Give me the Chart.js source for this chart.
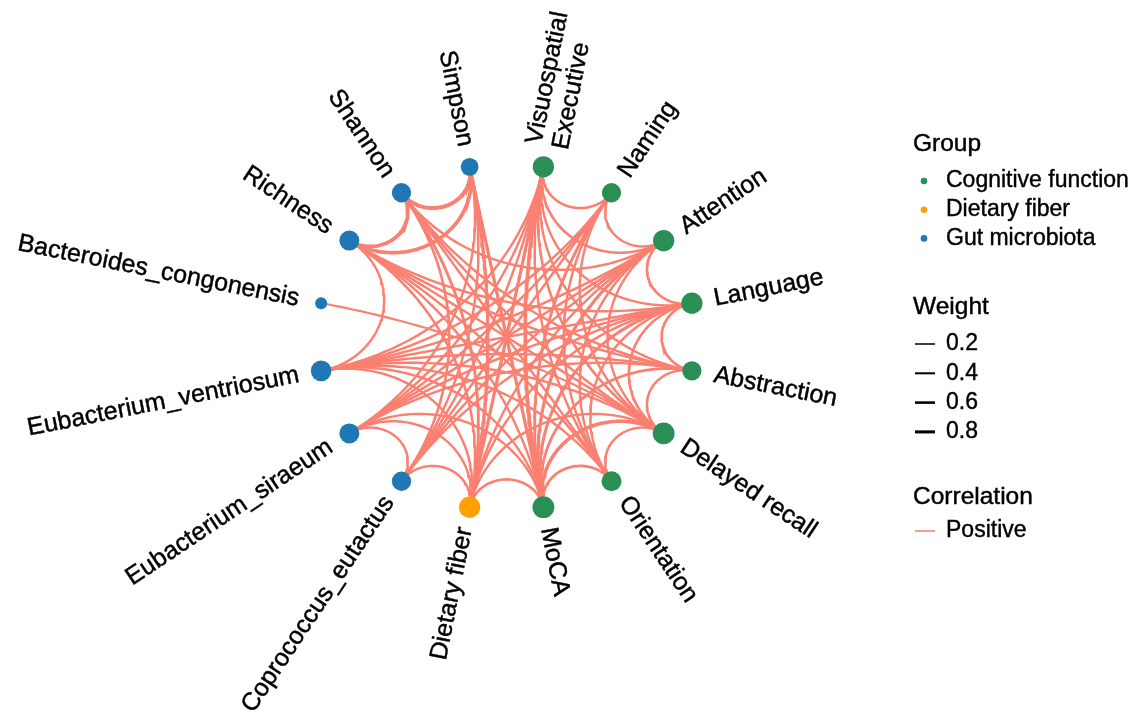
<!DOCTYPE html>
<html>
<head>
<meta charset="utf-8">
<script src="https://cdn.jsdelivr.net/npm/chart.js@4.4.1/dist/chart.umd.min.js"></script>
<style>
  html, body { margin: 0; padding: 0; background: #ffffff; }
  canvas { display: block; }
</style>
</head>
<body>
<canvas id="net" width="1135" height="716"></canvas>
<script>
// ---- data ---------------------------------------------------------------
// nodes in clockwise order starting just right of 12 o'clock
const nodeNames = [
  "Visuospatial Executive", "Naming", "Attention", "Language", "Abstraction",
  "Delayed recall", "Orientation", "MoCA", "Dietary fiber", "Coprococcus_eutactus",
  "Eubacterium_siraeum", "Eubacterium_ventriosum", "Bacteroides_congonensis",
  "Richness", "Shannon", "Simpson"
];
const nodeLabels = [
  "Visuospatial\nExecutive", "Naming", "Attention", "Language", "Abstraction",
  "Delayed recall", "Orientation", "MoCA", "Dietary fiber", "Coprococcus_eutactus",
  "Eubacterium_siraeum", "Eubacterium_ventriosum", "Bacteroides_congonensis",
  "Richness", "Shannon", "Simpson"
];
const nodeGroups = [
  "Cognitive function", "Cognitive function", "Cognitive function", "Cognitive function",
  "Cognitive function", "Cognitive function", "Cognitive function", "Cognitive function",
  "Dietary fiber", "Gut microbiota", "Gut microbiota", "Gut microbiota", "Gut microbiota",
  "Gut microbiota", "Gut microbiota", "Gut microbiota"
];
const groupNames = ["Cognitive function", "Dietary fiber", "Gut microbiota"];

// correlation edges (all positive): from, to, weight
const edgeFrom = [
  "Simpson", "Simpson", "Shannon", "Eubacterium_siraeum", "Shannon", "Simpson", "Simpson",
  "Dietary fiber", "Dietary fiber", "Dietary fiber", "Dietary fiber", "Dietary fiber", "Dietary fiber",
  "Dietary fiber", "Dietary fiber", "Dietary fiber", "Dietary fiber", "Dietary fiber",
  "MoCA", "MoCA", "MoCA", "MoCA", "MoCA", "MoCA", "MoCA", "MoCA", "MoCA", "MoCA", "MoCA",
  "Visuospatial Executive", "Visuospatial Executive", "Visuospatial Executive", "Visuospatial Executive",
  "Visuospatial Executive", "Visuospatial Executive", "Visuospatial Executive", "Visuospatial Executive",
  "Visuospatial Executive",
  "Naming", "Naming", "Naming", "Naming", "Naming", "Naming",
  "Attention", "Attention", "Attention", "Attention", "Attention", "Attention", "Attention",
  "Language", "Language", "Language", "Language", "Language", "Language", "Language",
  "Abstraction", "Abstraction", "Abstraction", "Abstraction", "Abstraction",
  "Delayed recall", "Delayed recall", "Delayed recall", "Delayed recall", "Delayed recall",
  "Orientation", "Orientation", "Orientation",
  "Eubacterium_ventriosum"
];
const edgeTo = [
  "Shannon", "Richness", "Richness", "Coprococcus_eutactus", "Coprococcus_eutactus", "Eubacterium_siraeum", "Coprococcus_eutactus",
  "Coprococcus_eutactus", "MoCA", "Simpson", "Shannon", "Richness", "Eubacterium_ventriosum",
  "Eubacterium_siraeum", "Visuospatial Executive", "Language", "Delayed recall", "Attention",
  "Visuospatial Executive", "Naming", "Attention", "Language", "Abstraction", "Delayed recall",
  "Orientation", "Simpson", "Eubacterium_ventriosum", "Richness", "Eubacterium_siraeum",
  "Naming", "Attention", "Language", "Abstraction", "Delayed recall", "Orientation",
  "Eubacterium_ventriosum", "Eubacterium_siraeum", "Coprococcus_eutactus",
  "Attention", "Coprococcus_eutactus", "Eubacterium_siraeum", "Eubacterium_ventriosum", "Orientation", "Delayed recall",
  "Language", "Delayed recall", "Eubacterium_ventriosum", "Orientation", "Coprococcus_eutactus", "Shannon", "Eubacterium_siraeum",
  "Abstraction", "Delayed recall", "Eubacterium_ventriosum", "Eubacterium_siraeum", "Orientation", "Richness", "Coprococcus_eutactus",
  "Delayed recall", "Eubacterium_ventriosum", "Eubacterium_siraeum", "Richness", "Shannon",
  "Orientation", "Bacteroides_congonensis", "Eubacterium_ventriosum", "Shannon", "Richness",
  "Shannon", "Richness", "Eubacterium_ventriosum",
  "Richness"
];
const edgeWeight = [
  0.95, 0.85, 0.85, 0.45, 0.50, 0.45, 0.45,
  0.45, 0.50, 0.75, 0.60, 0.50, 0.45,
  0.45, 0.70, 0.45, 0.45, 0.45,
  0.85, 0.60, 0.70, 0.65, 0.55, 0.80, 0.55, 0.70, 0.45, 0.45, 0.45,
  0.50, 0.50, 0.45, 0.45, 0.50, 0.45, 0.45, 0.45, 0.45,
  0.45, 0.45, 0.45, 0.45, 0.45, 0.45,
  0.50, 0.45, 0.45, 0.45, 0.45, 0.45, 0.45,
  0.50, 0.50, 0.45, 0.45, 0.45, 0.45, 0.45,
  0.45, 0.45, 0.45, 0.45, 0.45,
  0.45, 0.35, 0.45, 0.45, 0.45,
  0.45, 0.45, 0.45,
  0.45
];
const weightBreaks = [0.2, 0.4, 0.6, 0.8];
const correlationTypes = ["Positive"];

// ---- styling ------------------------------------------------------------
const groupColors = { "Cognitive function": "#2A8F55", "Dietary fiber": "#FFA000", "Gut microbiota": "#1F77B4" };
const edgeColor = "#FA8072";
const FONT = '"Liberation Sans", Arial, Helvetica, sans-serif';
const widthFor = w => 1.0 + 3.2 * w;

// panel geometry: the unit circle of the layout is stretched to an ellipse
const W = 1135, H = 716, CX = 506.5, CY = 337, RX = 189, RY = 173.5;
const xMin = -CX / RX, xMax = (W - CX) / RX;
const yMax = CY / RY, yMin = -(H - CY) / RY;

// ---- circular layout ----------------------------------------------------
const n = nodeNames.length;
const theta = nodeNames.map((_, i) => (i + 0.5) * 2 * Math.PI / n);
const pos = theta.map(t => ({ x: Math.sin(t), y: Math.cos(t) }));
const idx = name => nodeNames.indexOf(name);

// arcs that meet the layout circle at right angles
function arcPoints(i, j, steps) {
  const a = pos[i], b = pos[j];
  let d = Math.abs(theta[j] - theta[i]);
  if (d > Math.PI) d = 2 * Math.PI - d;
  const pts = [];
  if (Math.abs(d - Math.PI) < 1e-6) {
    for (let k = 0; k <= steps; k++) {
      const t = k / steps;
      pts.push({ x: a.x + (b.x - a.x) * t, y: a.y + (b.y - a.y) * t });
    }
    return pts;
  }
  const mx = (a.x + b.x) / 2, my = (a.y + b.y) / 2, ml = Math.hypot(mx, my);
  const dist = 1 / Math.cos(d / 2), r = Math.tan(d / 2);
  const cx = mx / ml * dist, cy = my / ml * dist;
  const t0 = Math.atan2(a.y - cy, a.x - cx);
  let dt = Math.atan2(b.y - cy, b.x - cx) - t0;
  while (dt > Math.PI) dt -= 2 * Math.PI;
  while (dt < -Math.PI) dt += 2 * Math.PI;
  for (let k = 0; k <= steps; k++) {
    const t = t0 + dt * k / steps;
    pts.push({ x: cx + r * Math.cos(t), y: cy + r * Math.sin(t) });
  }
  return pts;
}

// node degree drives point size
const degree = new Array(n).fill(0);
edgeFrom.forEach((f, k) => { degree[idx(f)]++; degree[idx(edgeTo[k])]++; });
const nodeRadius = degree.map(dg => 4 + 2 * Math.sqrt(dg));

const edgeDatasets = edgeFrom.map((f, k) => ({
  type: 'line',
  data: arcPoints(idx(f), idx(edgeTo[k]), 60),
  borderColor: edgeColor,
  borderWidth: widthFor(edgeWeight[k]),
  pointRadius: 0,
  fill: false,
  tension: 0,
  order: 1
}));

const nodeDataset = {
  type: 'scatter',
  data: pos.map(p => ({ x: p.x, y: p.y })),
  backgroundColor: nodeGroups.map(g => groupColors[g]),
  borderWidth: 0,
  pointRadius: nodeRadius,
  pointHoverRadius: nodeRadius,
  order: 0
};

function heavyText(ctx, txt, x, y) {
  ctx.fillText(txt, x, y);
  ctx.strokeText(txt, x, y);
}

// node labels, rotated along the radius
const labelPlugin = {
  id: 'nodeLabels',
  afterDatasetsDraw(chart) {
    const { ctx, scales: { x: xs, y: ys } } = chart;
    ctx.save();
    ctx.fillStyle = '#000';
    ctx.strokeStyle = '#000';
    ctx.lineWidth = 0.45;
    ctx.font = `25px ${FONT}`;
    ctx.textBaseline = 'middle';
    nodeLabels.forEach((label, i) => {
      const px = xs.getPixelForValue(pos[i].x * 1.12);
      const py = ys.getPixelForValue(pos[i].y * 1.12);
      let ang = Math.atan2(pos[i].y, pos[i].x);
      const right = pos[i].x >= 0;
      if (!right) ang += Math.PI;
      ctx.save();
      ctx.translate(px, py);
      ctx.rotate(-ang);
      ctx.textAlign = right ? 'left' : 'right';
      const lines = label.split('\n');
      const lh = 27;
      lines.forEach((ln, k) => heavyText(ctx, ln, 0, (k - (lines.length - 1) / 2) * lh));
      ctx.restore();
    });
    ctx.restore();
  }
};

// guide boxes on the right
const guidePlugin = {
  id: 'guides',
  afterDraw(chart) {
    const ctx = chart.ctx;
    ctx.save();
    ctx.fillStyle = '#000';
    ctx.textBaseline = 'middle';
    ctx.textAlign = 'left';
    const x0 = 913, tx = 946;
    const title = (t, y) => {
      ctx.font = `24.5px ${FONT}`;
      ctx.fillStyle = '#000'; ctx.strokeStyle = '#000'; ctx.lineWidth = 0.45;
      heavyText(ctx, t, x0, y);
      ctx.font = `23px ${FONT}`;
    };
    const item = (t, y) => { ctx.fillStyle = '#000'; ctx.strokeStyle = '#000'; ctx.lineWidth = 0.4; heavyText(ctx, t, tx, y); };

    title('Group', 144);
    groupNames.forEach((g, k) => {
      const y = 181 + k * 28.7;
      ctx.fillStyle = groupColors[g];
      ctx.beginPath(); ctx.arc(924, y, 3.3, 0, 2 * Math.PI); ctx.fill();
      item(g, y);
    });
    title('Weight', 307);
    weightBreaks.forEach((w, k) => {
      const y = 344 + k * 29.3;
      ctx.strokeStyle = '#000';
      ctx.lineWidth = 1.0 + 2.6 * w;
      ctx.beginPath(); ctx.moveTo(915, y); ctx.lineTo(935, y); ctx.stroke();
      item(w.toFixed(1), y);
    });
    title('Correlation', 497);
    correlationTypes.forEach((c, k) => {
      const y = 531 + k * 29;
      ctx.strokeStyle = edgeColor;
      ctx.lineWidth = 1.6;
      ctx.beginPath(); ctx.moveTo(915, y); ctx.lineTo(935, y); ctx.stroke();
      item(c, y);
    });
    ctx.restore();
  }
};

new Chart(document.getElementById('net'), {
  type: 'scatter',
  data: { datasets: [nodeDataset, ...edgeDatasets] },
  options: {
    responsive: false,
    animation: false,
    devicePixelRatio: 1,
    layout: { padding: 0, autoPadding: false },
    events: [],
    scales: {
      x: { type: 'linear', min: xMin, max: xMax, display: false },
      y: { type: 'linear', min: yMin, max: yMax, display: false }
    },
    plugins: { legend: { display: false }, tooltip: { enabled: false } }
  },
  plugins: [labelPlugin, guidePlugin]
});
</script>
</body>
</html>
